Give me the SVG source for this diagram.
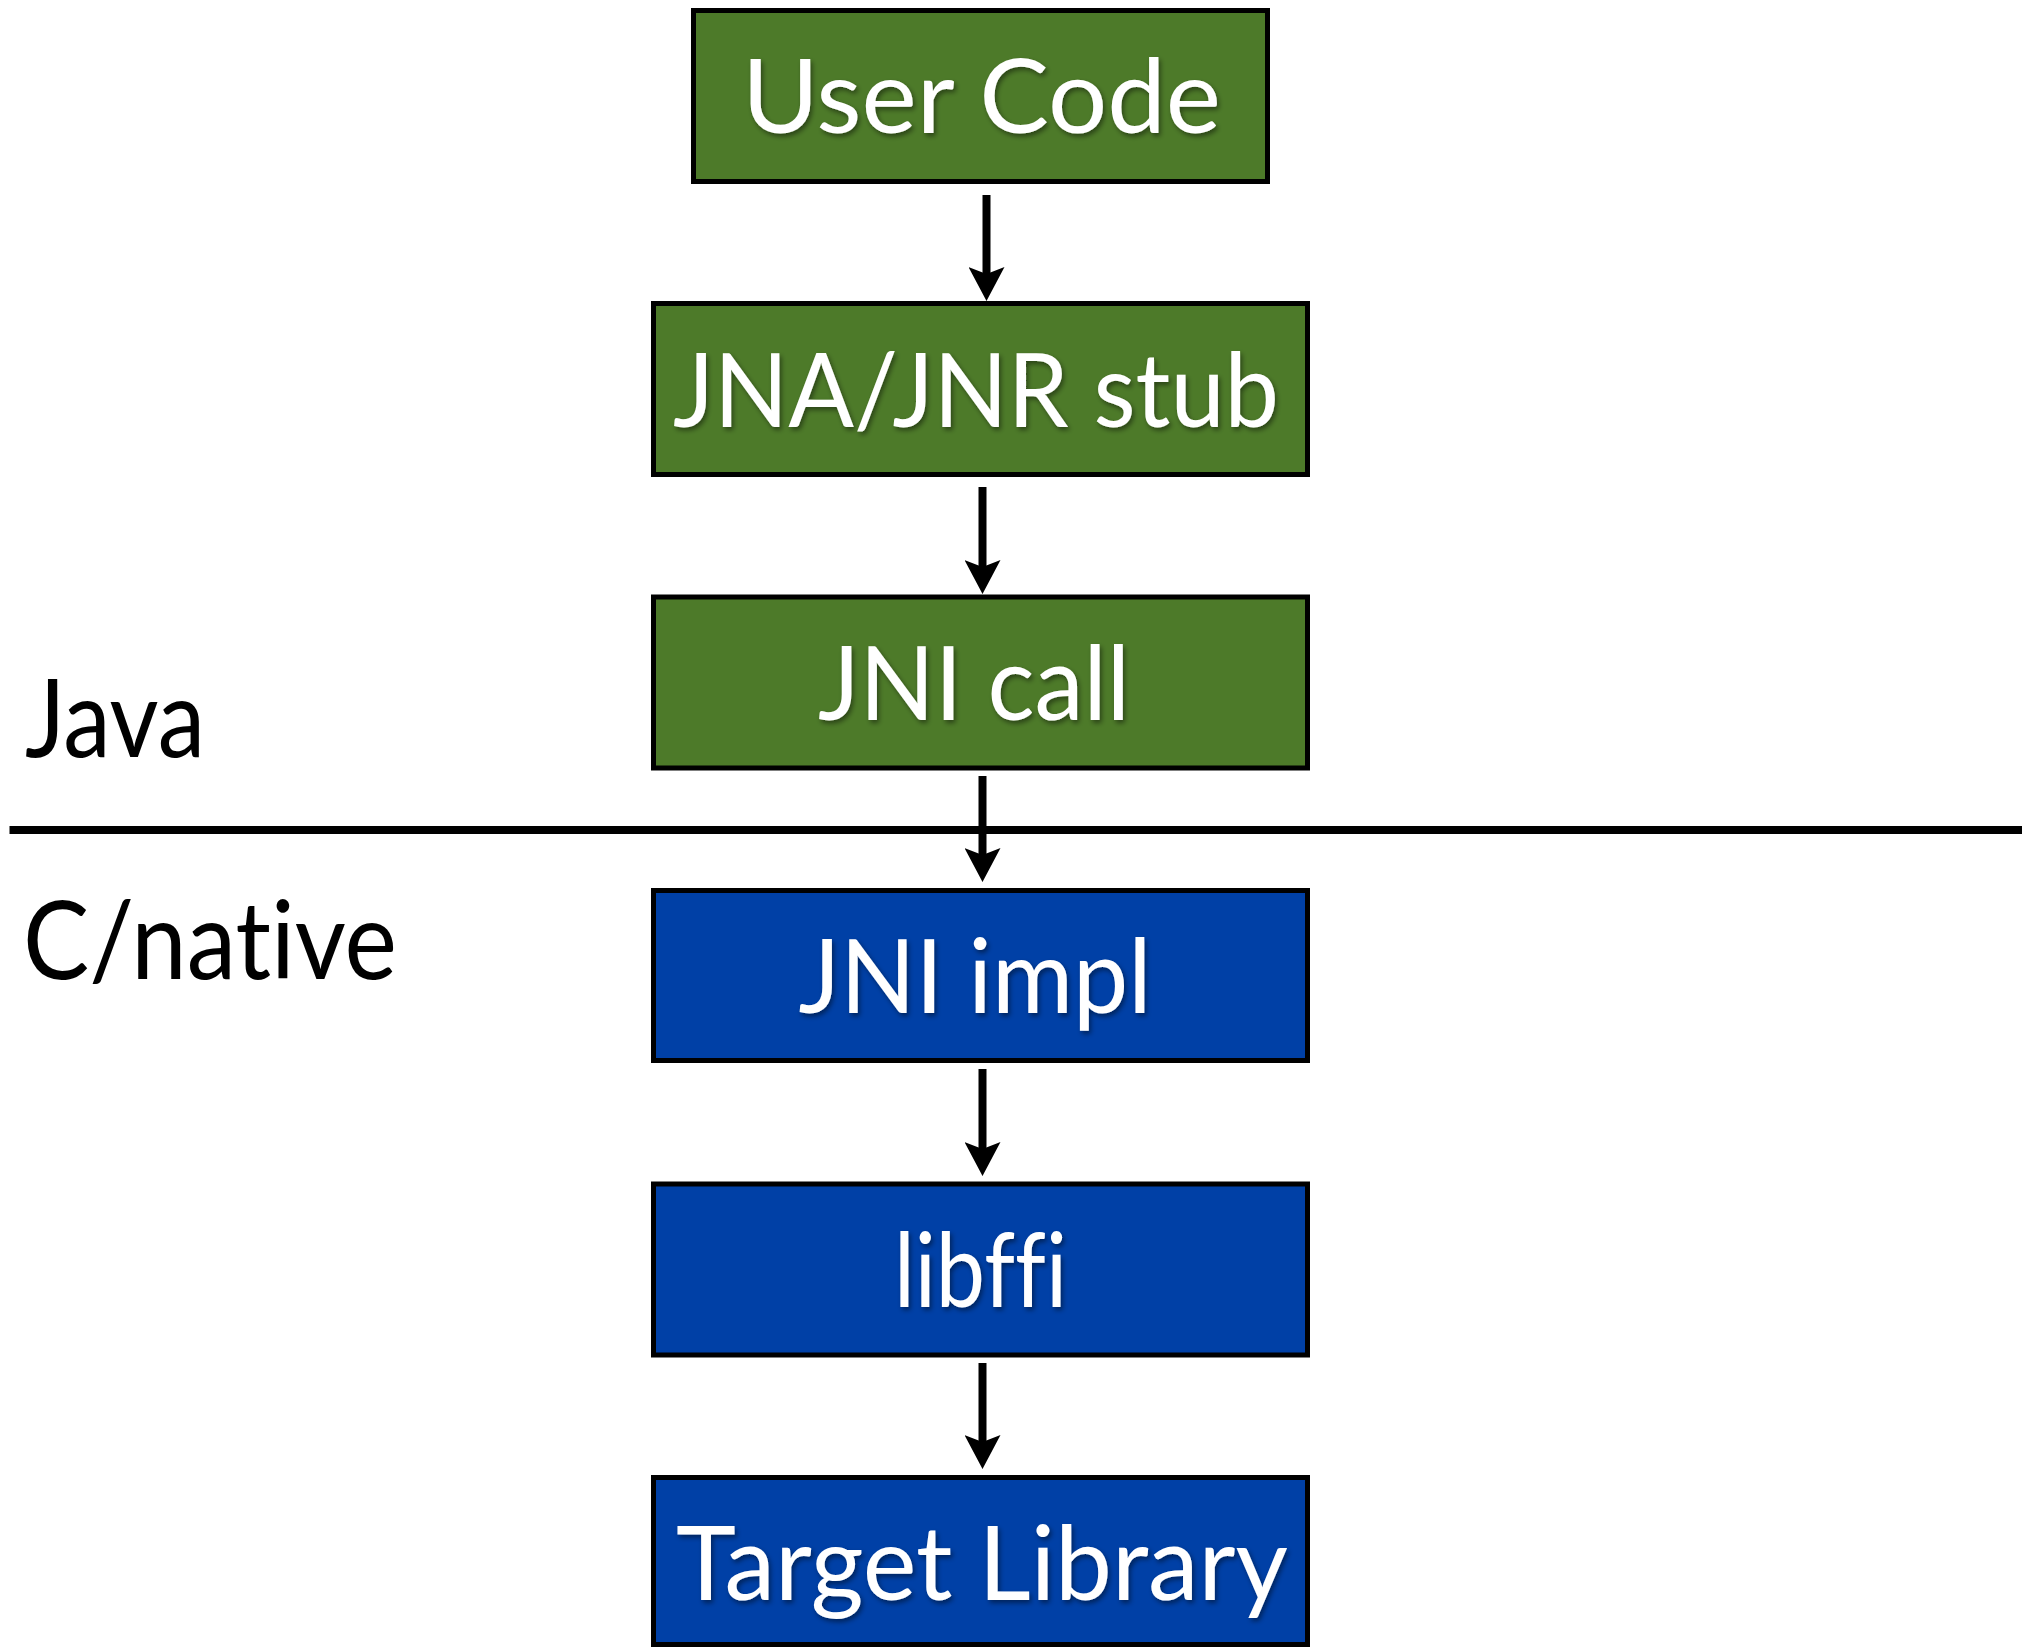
<svg xmlns="http://www.w3.org/2000/svg" width="2022" height="1648" viewBox="0 0 2022 1648">
  <style>
    .box { stroke: #000; stroke-width: 5; }
    .java { fill: #4D7A29; }
    .native { fill: #0040A6; }
    .label { font-family: "Lato", "Open Sans", "Liberation Sans", sans-serif; font-size: 102px; fill: #fff; text-anchor: middle; filter: url(#shadow); font-variant-ligatures: none; }
    .side { font-family: "Lato", "Open Sans", "Liberation Sans", sans-serif; font-size: 108px; fill: #000; text-anchor: middle; font-variant-ligatures: none; }
    .conn { stroke: #000; stroke-width: 8; fill: none; marker-end: url(#head); }
  </style>
  <defs>
    <filter id="shadow" x="-10%" y="-20%" width="120%" height="150%">
      <feDropShadow dx="2" dy="3" stdDeviation="2.5" flood-color="#000" flood-opacity="0.45"/>
    </filter>
    <!-- notched arrowhead; refX sits on the notch so the shaft stops there -->
    <marker id="head" markerUnits="userSpaceOnUse" viewBox="0 -18 34 36" markerWidth="34" markerHeight="36" refX="7" refY="0" orient="auto">
      <path d="M0,-18 L34,0 L0,18 L7,0 Z" fill="#000"/>
    </marker>
  </defs>

  <rect width="2022" height="1648" fill="#fff"/>

  <!-- layer divider and layer names -->
  <line x1="9.5" y1="830" x2="2022" y2="830" stroke="#000" stroke-width="8"/>
  <text class="side" x="115" y="757" textLength="180" lengthAdjust="spacingAndGlyphs">Java</text>
  <text class="side" x="210" y="979" textLength="374" lengthAdjust="spacingAndGlyphs">C/native</text>

  <g id="connectors">
    <line class="conn" x1="986.5" y1="195" x2="986.5" y2="274"/>
    <line class="conn" x1="982.5" y1="487" x2="982.5" y2="567"/>
    <line class="conn" x1="982.5" y1="776" x2="982.5" y2="855"/>
    <line class="conn" x1="982.5" y1="1069" x2="982.5" y2="1149"/>
    <line class="conn" x1="982.5" y1="1363" x2="982.5" y2="1442"/>
  </g>

  <g id="user-code">
    <rect class="box java" x="693.5" y="10.5" width="574" height="171"/>
    <text class="label" x="981.5" y="133" textLength="479" lengthAdjust="spacingAndGlyphs">User Code</text>
  </g>
  <g id="jna-jnr-stub">
    <rect class="box java" x="653.5" y="303.5" width="654" height="171"/>
    <text class="label" x="976" y="427" textLength="606" lengthAdjust="spacingAndGlyphs">JNA/JNR stub</text>
  </g>
  <g id="jni-call">
    <rect class="box java" x="653.5" y="597" width="654" height="171"/>
    <text class="label" x="974" y="720" textLength="312" lengthAdjust="spacingAndGlyphs">JNI call</text>
  </g>
  <g id="jni-impl">
    <rect class="box native" x="653.5" y="890.5" width="654" height="170"/>
    <text class="label" x="975" y="1013" textLength="353" lengthAdjust="spacingAndGlyphs">JNI impl</text>
  </g>
  <g id="libffi">
    <rect class="box native" x="653.5" y="1184" width="654" height="171"/>
    <text class="label" x="980.5" y="1307" textLength="173" lengthAdjust="spacingAndGlyphs">libffi</text>
  </g>
  <g id="target-library">
    <rect class="box native" x="653.5" y="1477.5" width="654" height="167"/>
    <text class="label" x="982" y="1600" textLength="612" lengthAdjust="spacingAndGlyphs">Target Library</text>
  </g>
</svg>
